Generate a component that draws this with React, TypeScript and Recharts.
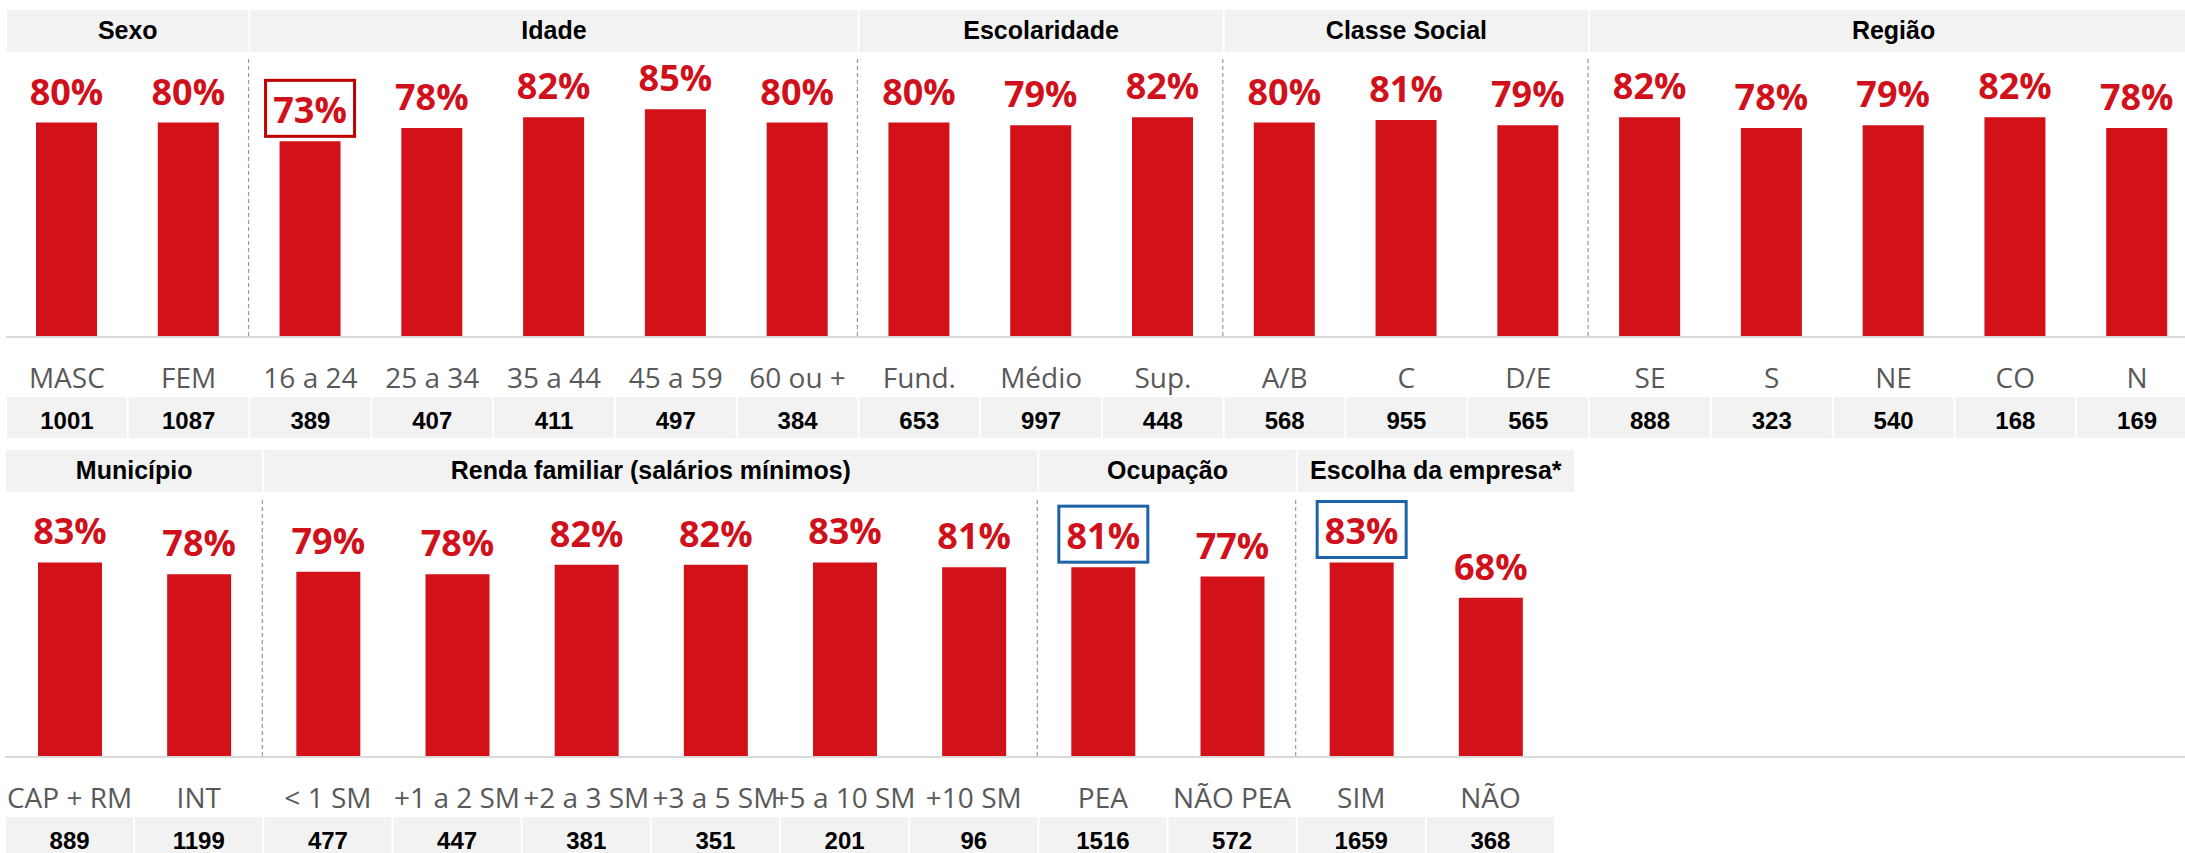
import { BarChart, Bar, XAxis, YAxis, LabelList, ReferenceArea, ReferenceLine } from 'recharts';

// top row
const topCategories = ['MASC', 'FEM', '16 a 24', '25 a 34', '35 a 44', '45 a 59', '60 ou +', 'Fund.', 'Médio', 'Sup.', 'A/B', 'C', 'D/E', 'SE', 'S', 'NE', 'CO', 'N'];
const topValues = [80, 80, 73, 78, 82, 85, 80, 80, 79, 82, 80, 81, 79, 82, 78, 79, 82, 78];
const topCounts = [1001, 1087, 389, 407, 411, 497, 384, 653, 997, 448, 568, 955, 565, 888, 323, 540, 168, 169];
const topGroups = [
  { name: 'Sexo', from: 'MASC', to: 'FEM' },
  { name: 'Idade', from: '16 a 24', to: '60 ou +' },
  { name: 'Escolaridade', from: 'Fund.', to: 'Sup.' },
  { name: 'Classe Social', from: 'A/B', to: 'D/E' },
  { name: 'Região', from: 'SE', to: 'N' },
];
const topHighlights: Record<string, string> = { '16 a 24': '#c00000' };

// bottom row
const bottomCategories = ['CAP + RM', 'INT', '< 1 SM', '+1 a 2 SM', '+2 a 3 SM', '+3 a 5 SM', '+5 a 10 SM', '+10 SM', 'PEA', 'NÃO PEA', 'SIM', 'NÃO'];
const bottomValues = [83, 78, 79, 78, 82, 82, 83, 81, 81, 77, 83, 68];
const bottomCounts = [889, 1199, 477, 447, 381, 351, 201, 96, 1516, 572, 1659, 368];
const bottomGroups = [
  { name: 'Município', from: 'CAP + RM', to: 'INT' },
  { name: 'Renda familiar (salários mínimos)', from: '< 1 SM', to: '+10 SM' },
  { name: 'Ocupação', from: 'PEA', to: 'NÃO PEA' },
  { name: 'Escolha da empresa*', from: 'SIM', to: 'NÃO' },
];
const bottomHighlights: Record<string, string> = { PEA: '#1c63a8', SIM: '#1c63a8' };

const RED = '#d31118';
const GRAY_BAND = '#f2f2f2';

function HeaderLabel(props: any) {
  const { viewBox, title, extra = 0 } = props;
  const { x, y, width, height } = viewBox;
  return (
    <text
      x={x + (width + extra) / 2}
      y={y + height / 2 + 8}
      textAnchor="middle"
      fontFamily="'Liberation Sans', Arial, sans-serif"
      fontWeight={700}
      fontSize={25}
      fill="#000"
    >
      {title}
    </text>
  );
}

function makeTick(counts: number[], bandW: number) {
  return (props: any) => {
    const { x, y, payload, index } = props;
    return (
      <g>
        <text x={x} y={y + 51} textAnchor="middle" fontFamily="'Open Sans', sans-serif" fontSize={28} fill="#595959">
          {payload.value}
        </text>
        <rect x={x - bandW / 2 + 1} y={y + 60} width={bandW - 2} height={41} fill={GRAY_BAND} />
        <text
          x={x}
          y={y + 92}
          textAnchor="middle"
          fontFamily="'Liberation Sans', Arial, sans-serif"
          fontWeight={700}
          fontSize={24}
          fill="#000"
        >
          {counts[index]}
        </text>
      </g>
    );
  };
}

function makeValueLabel(categories: string[], highlights: Record<string, string>) {
  return (props: any) => {
    const vb = props.viewBox || props;
    const { x, y, width } = vb;
    const { value, index } = props;
    const cx = x + width / 2;
    const by = y - 18;
    const color = highlights[categories[index]];
    return (
      <g>
        {color && (
          <rect x={cx - 44.5} y={by - 43} width={89} height={56} fill="none" stroke={color} strokeWidth={3} />
        )}
        <text x={cx} y={by} textAnchor="middle" fontFamily="'Open Sans', sans-serif" fontWeight={700} fontSize={36} fill="#d0111b">
          {value}%
        </text>
      </g>
    );
  };
}

type RowProps = {
  categories: string[];
  values: number[];
  counts: number[];
  groups: { name: string; from: string; to: string }[];
  highlights: Record<string, string>;
  width: number;
  height: number;
  left: number;
  right: number;
  axisHeight: number;
  yMax: number;
  headerBottom: number;
  barSize: number;
  dashStart: number;
};

function Row(p: RowProps) {
  const data = p.categories.map((name, i) => ({ name, v: p.values[i] }));
  const bandW = (p.width - p.left - p.right) / p.categories.length;
  return (
    <BarChart width={p.width} height={p.height} data={data} margin={{ top: 10, right: p.right, bottom: 0, left: p.left }}>
      <XAxis
        dataKey="name"
        interval={0}
        tickSize={0}
        tickMargin={0}
        tickLine={false}
        axisLine={{ stroke: '#d9d9d9', strokeWidth: 2 }}
        height={p.axisHeight}
        tick={makeTick(p.counts, bandW)}
      />
      <YAxis hide type="number" domain={[0, p.yMax]} />
      {p.groups.slice(1).map((g) => (
        <ReferenceLine
          key={'l' + g.name}
          x={g.from}
          position="start"
          stroke="#999"
          shape={(s: any) => (
            <line
              x1={s.x1 - 1}
              x2={s.x2 - 1}
              y1={Math.min(s.y1, s.y2) + p.dashStart}
              y2={Math.max(s.y1, s.y2) + 2}
              stroke="#999"
              strokeWidth={1.2}
              strokeDasharray="4 3"
            />
          )}
        />
      ))}
      {p.groups.map((g, i) => {
        // the last header band runs on past the plot edge
        const extra = i === p.groups.length - 1 ? p.right : 0;
        return (
          <ReferenceArea
            key={'h' + g.name}
            x1={g.from}
            x2={g.to}
            y1={p.headerBottom}
            y2={p.yMax}
            ifOverflow="visible"
            shape={(s: any) => (
              <rect x={s.x + 1} y={s.y} width={s.width + extra - 2} height={s.height} fill={GRAY_BAND} />
            )}
            label={<HeaderLabel title={g.name} extra={extra} />}
          />
        );
      })}
      <Bar dataKey="v" fill={RED} barSize={p.barSize} isAnimationActive={false}>
        <LabelList dataKey="v" content={makeValueLabel(p.categories, p.highlights)} />
      </Bar>
    </BarChart>
  );
}

export default function App() {
  return (
    <div style={{ position: 'absolute', left: 0, top: 0, width: 2185, height: 853, overflow: 'hidden', background: '#fff' }}>
      <div style={{ position: 'absolute', left: 0, top: 0 }}>
        <Row
          categories={topCategories}
          values={topValues}
          counts={topCounts}
          groups={topGroups}
          highlights={topHighlights}
          width={2198}
          height={445}
          left={6}
          right={0}
          axisHeight={108}
          yMax={122}
          headerBottom={106.3}
          barSize={61}
          dashStart={49}
        />
      </div>
      <div style={{ position: 'absolute', left: 0, top: 440 }}>
        <Row
          categories={bottomCategories}
          values={bottomValues}
          counts={bottomCounts}
          groups={bottomGroups}
          highlights={bottomHighlights}
          width={1575}
          height={413}
          left={5}
          right={20}
          axisHeight={96}
          yMax={131}
          headerBottom={113.1}
          barSize={64}
          dashStart={50}
        />
      </div>
      <div style={{ position: 'absolute', left: 1555, top: 756, width: 630, height: 2, background: '#d9d9d9' }} />
    </div>
  );
}
